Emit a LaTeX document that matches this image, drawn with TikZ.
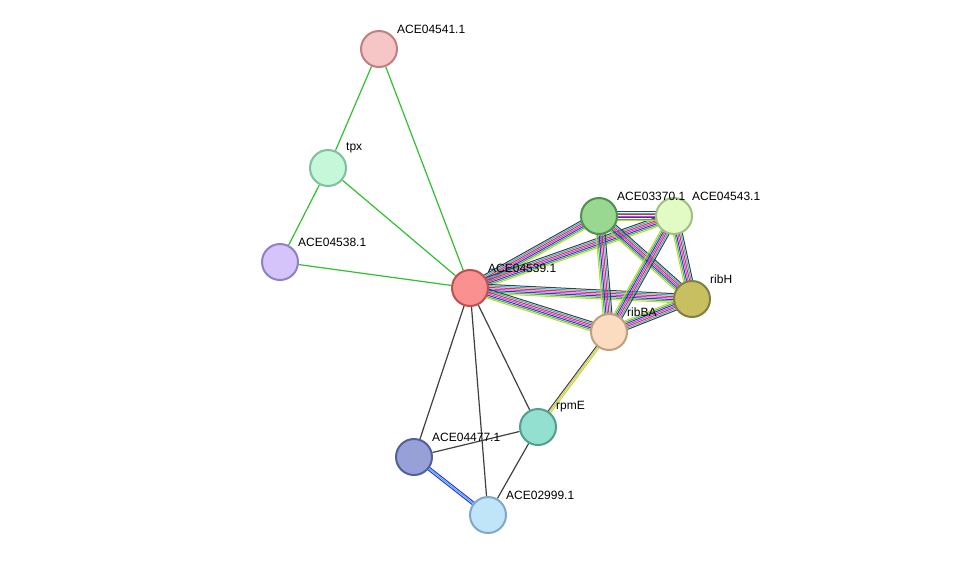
\documentclass[tikz,border=0pt]{standalone}
\usepackage{fontspec}
\setmainfont{Liberation Sans}
\usetikzlibrary{calc,backgrounds}
\newcommand\mline[4]{\draw[#4,line width=1pt] ($(#1.center)!#3!90:(#2.center)$) -- ($(#2.center)!#3!-90:(#1.center)$);}
\newcommand\multiedge[2]{%
\mline{#1}{#2}{-4.5pt}{cA}\mline{#1}{#2}{-3pt}{cB}\mline{#1}{#2}{-1.5pt}{cC}\mline{#1}{#2}{0pt}{cD}\mline{#1}{#2}{1.5pt}{cE}\mline{#1}{#2}{3pt}{cF}\mline{#1}{#2}{4.5pt}{cG}}
\definecolor{cA}{HTML}{C8D040}
\definecolor{cB}{HTML}{30C030}
\definecolor{cC}{HTML}{3030E0}
\definecolor{cD}{HTML}{D040D0}
\definecolor{cE}{HTML}{E03030}
\definecolor{cF}{HTML}{30B0E0}
\definecolor{cG}{HTML}{404040}
\definecolor{eg}{HTML}{30C030}
\begin{document}
\begin{tikzpicture}[x=1pt,y=-1pt,
 prot/.style={circle,minimum size=36pt,inner sep=0pt,line width=2pt},
 lab/.style={font=\fontsize{12}{12}\selectfont,anchor=south west,inner sep=0pt},
 gl/.style={eg,line width=1.2pt},
 dl/.style={black!75,line width=1.2pt}]
\useasboundingbox (0,0) rectangle (976,560);
\node[prot,fill={rgb,255:red,246;green,198;blue,198},draw={rgb,255:red,192;green,128;blue,128}] (a41) at (379,49) {};
\node[prot,fill={rgb,255:red,196;green,248;blue,216},draw={rgb,255:red,128;green,192;blue,160}] (tpx) at (328,168) {};
\node[prot,fill={rgb,255:red,212;green,196;blue,250},draw={rgb,255:red,144;green,128;blue,200}] (a38) at (280,262) {};
\node[prot,fill={rgb,255:red,250;green,144;blue,144},draw={rgb,255:red,192;green,80;blue,80}] (a39) at (470,288) {};
\node[prot,fill={rgb,255:red,152;green,216;blue,144},draw={rgb,255:red,80;green,144;blue,80}] (a70) at (599,216) {};
\node[prot,fill={rgb,255:red,226;green,250;blue,196},draw={rgb,255:red,160;green,192;blue,128}] (a43) at (674,216) {};
\node[prot,fill={rgb,255:red,200;green,192;blue,96},draw={rgb,255:red,128;green,128;blue,64}] (ribH) at (692,299) {};
\node[prot,fill={rgb,255:red,252;green,220;blue,192},draw={rgb,255:red,192;green,160;blue,128}] (ribBA) at (609,332) {};
\node[prot,fill={rgb,255:red,148;green,224;blue,208},draw={rgb,255:red,80;green,160;blue,144}] (rpmE) at (538,427) {};
\node[prot,fill={rgb,255:red,152;green,160;blue,216},draw={rgb,255:red,80;green,96;blue,160}] (a77) at (414,457) {};
\node[prot,fill={rgb,255:red,192;green,228;blue,248},draw={rgb,255:red,128;green,168;blue,200}] (a99) at (488,515) {};
\node[lab] (l1) at (397,34) {ACE04541.1};
\node[lab] (l2) at (346,153) {tpx};
\node[lab] (l3) at (298,247) {ACE04538.1};
\node[lab] (l4) at (488,273) {ACE04539.1};
\node[lab] (l5) at (617,201) {ACE03370.1};
\node[lab] (l6) at (692,201) {ACE04543.1};
\node[lab] (l7) at (710,284) {ribH};
\node[lab] (l8) at (627,317) {ribBA};
\node[lab] (l9) at (556,412) {rpmE};
\node[lab] (l10) at (432,442) {ACE04477.1};
\node[lab] (l11) at (506,500) {ACE02999.1};
\begin{scope}[on background layer]
\draw[gl] (a41) -- (tpx); \draw[gl] (a41) -- (a39); \draw[gl] (tpx) -- (a38);
\draw[gl] (tpx) -- (a39); \draw[gl] (a38) -- (a39);
\draw[dl] (a39) -- (a77); \draw[dl] (a39) -- (a99); \draw[dl] (a39) -- (rpmE);
\draw[dl] (a77) -- (rpmE); \draw[dl] (rpmE) -- (a99);
\mline{rpmE}{ribBA}{-1.5pt}{cA}\mline{rpmE}{ribBA}{0pt}{cA}\mline{rpmE}{ribBA}{1.5pt}{cG}
\mline{a77}{a99}{-1.5pt}{cC}\mline{a77}{a99}{0pt}{cF}\mline{a77}{a99}{1.5pt}{cC}
\multiedge{a39}{a70}\multiedge{a39}{a43}\multiedge{a39}{ribH}\multiedge{a39}{ribBA}
\multiedge{a70}{a43}\multiedge{a70}{ribH}\multiedge{a70}{ribBA}
\multiedge{a43}{ribH}\multiedge{a43}{ribBA}\multiedge{ribH}{ribBA}
\end{scope}
\end{tikzpicture}
\end{document}
